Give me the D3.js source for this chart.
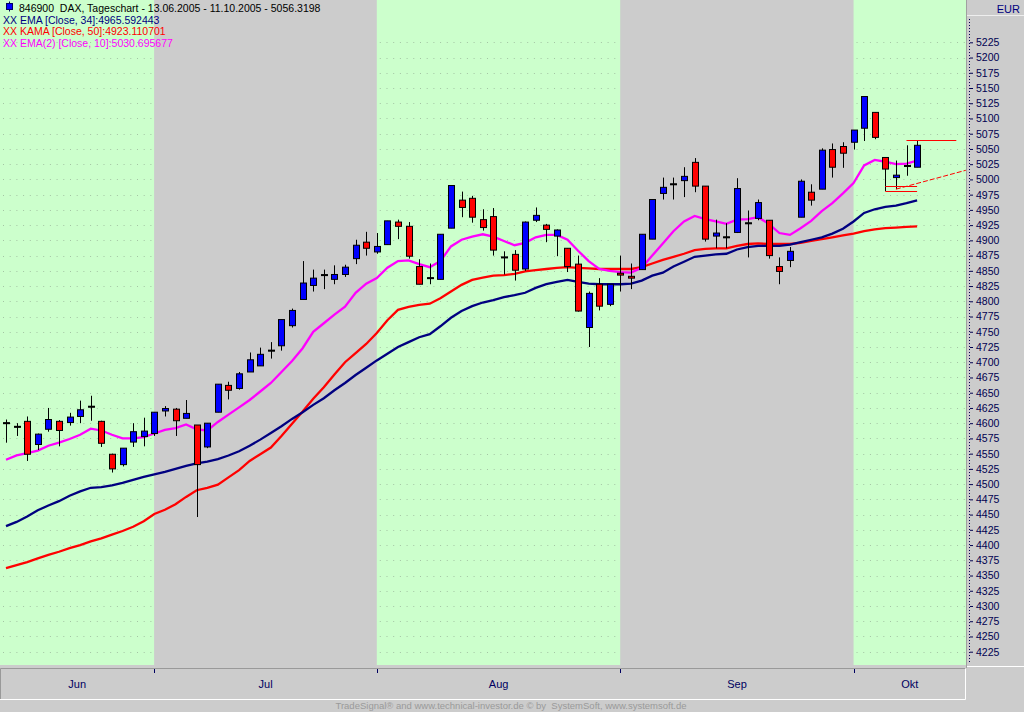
<!DOCTYPE html>
<html>
<head>
<meta charset="utf-8">
<script src="https://cdn.jsdelivr.net/npm/d3@7"></script>
<style>
  html, body { margin: 0; padding: 0; background: #cccccc; }
  svg { display: block; font-family: "Liberation Sans", Arial, sans-serif; }
</style>
</head>
<body>
<svg id="chart" width="1024" height="712"></svg>
<script>
// DAX daily chart 13.06.2005 - 11.10.2005
var months = ["Jun", "Jul", "Aug", "Sep", "Okt"];
var monthStart = [0, 14, 35, 58, 80];   //index of the first trading day of each month

var open  = [4600,4594,4603,4565,4590,4603,4601,4611,4627,4603,4549,4532,4569,4578,4583,4620,4623,4608,4597,4561,
             4618,4662,4657,4684,4694,4719,4727,4760,4803,4826,4843,4836,4844,4870,4897,4881,4893,4930,4923,4857,
             4838,4836,4920,4966,4969,4934,4939,4872,4877,4853,4933,4925,4907,4887,4861,4757,4828,4795,4846,4841,
             4852,4902,4977,4992,4998,5028,4989,4907,4905,4913,4928,4936,4933,4857,4867,4938,4979,4984,5049,5054,
             5061,5084,5110,5036,5003,5023,5020];
var high  = [4606,4600,4611,4583,4625,4605,4617,4637,4645,4604,4550,4559,4600,4609,4618,4628,4625,4638,4597,4600,
             4664,4668,4684,4716,4724,4733,4770,4788,4866,4852,4852,4859,4860,4901,4914,4912,4932,4934,4930,4869,
             4862,4910,4990,4980,4973,4951,4953,4882,4884,4931,4954,4927,4918,4887,4875,4816,4838,4828,4875,4862,
             4910,4967,5003,5003,5020,5035,4989,4934,4928,5002,4949,4967,4933,4872,4889,5000,4992,5051,5059,5061,
             5081,5136,5110,5036,5031,5056,5064];
var low   = [4568,4579,4538,4556,4586,4562,4596,4600,4604,4561,4519,4529,4561,4562,4579,4611,4579,4608,4446,4559,
             4618,4639,4655,4684,4694,4706,4719,4757,4803,4816,4820,4828,4840,4861,4875,4878,4893,4902,4870,4828,
             4828,4836,4920,4938,4929,4916,4875,4844,4834,4850,4930,4897,4874,4848,4783,4725,4785,4792,4816,4820,
             4852,4902,4967,4967,4971,4979,4898,4887,4887,4912,4872,4933,4870,4828,4856,4938,4957,4984,5003,5019,
             5049,5063,5066,4981,4984,5006,5020];
var close = [4600,4594,4549,4582,4606,4588,4610,4622,4627,4567,4525,4559,4586,4587,4618,4624,4604,4616,4532,4600,
             4664,4654,4681,4704,4713,4719,4770,4785,4830,4838,4843,4844,4856,4892,4887,4890,4932,4923,4874,4828,
             4838,4910,4990,4954,4938,4921,4884,4872,4851,4930,4941,4918,4917,4857,4784,4813,4792,4828,4843,4838,
             4910,4967,4987,4992,5005,4989,4902,4912,4905,4985,4928,4962,4875,4849,4882,4997,4966,5048,5020,5043,
             5081,5136,5069,5017,5007,5022,5056];

// indicator lines
var ema34 = [4431,4438,4447,4457,4465,4472,4481,4488,4494,4495,4498,4502,4507,4512,4516,4520,4525,4530,4534,4537,
             4541,4547,4554,4563,4573,4584,4595,4607,4618,4630,4641,4654,4666,4679,4691,4703,4714,4725,4733,4741,
             4746,4759,4773,4784,4792,4798,4802,4807,4810,4814,4822,4828,4832,4835,4832,4829,4828,4828,4828,4829,
             4834,4842,4847,4857,4865,4873,4875,4877,4878,4885,4889,4891,4891,4891,4893,4897,4901,4905,4911,4919,
             4931,4945,4951,4955,4957,4961,4965.6];
var kama50 = [4362,4367,4372,4378,4384,4389,4395,4400,4406,4411,4417,4423,4430,4439,4451,4458,4467,4479,4490,4494,
              4499,4511,4523,4538,4549,4560,4579,4599,4619,4640,4659,4680,4700,4715,4730,4748,4769,4786,4791,4794,
              4796,4805,4816,4827,4835,4839,4842,4843,4845,4849,4851,4853,4855,4856,4855,4854,4853,4853,4853,4853,
              4856,4862,4868,4873,4878,4884,4886,4887,4887,4891,4894,4895,4894,4894,4894,4896,4899,4902,4905,4908,
              4911,4915,4918,4920,4921,4922,4923.1];
var ema10 = [4540,4547,4551,4555,4563,4568,4574,4581,4591,4588,4581,4575,4575,4577,4583,4589,4592,4598,4590,4588,
             4602,4614,4626,4638,4652,4666,4684,4702,4723,4750,4764,4778,4791,4814,4829,4838,4855,4866,4867,4861,
             4856,4866,4890,4901,4906,4910,4906,4899,4892,4896,4905,4909,4909,4901,4883,4866,4853,4850,4848,4847,
             4855,4875,4895,4915,4931,4940,4935,4931,4927,4934,4935,4938,4927,4912,4909,4920,4932,4948,4961,4977,
             4994,5023,5032,5029,5025,5026,5030.7];

// support / resistance marks drawn at the right end
var hLevels = [5064, 4990, 4981];
var hFrom   = [85, 83, 83];
var hTo     = [89.7, 86, 86];
var trendIdx = [84, 90.6];
var trendVal = [4984, 5015];

var priceTicks = d3.range(4225, 5226, 25);

var svg = d3.select("#chart");
var plotW = 966, plotH = 665;

var x = d3.scaleLinear().domain([0, 86]).range([6, 917.1]);
var y = d3.scaleLinear().domain([4225, 5225]).range([651.7, 42.3]);

//month band edges
var edges = monthStart.map(function(d) { return x(d); });
edges[0] = 0;
edges.push(plotW);

var bands = months.map(function(m, i) {
  return {name: m, x0: edges[i], x1: edges[i + 1], green: i % 2 == 0};
});

svg.append("g")
  .selectAll("rect")
  .data(bands)
  .enter()
  .append("rect")
    .attr("x", function(d) { return d.x0; })
    .attr("y", 0)
    .attr("width", function(d) { return d.x1 - d.x0; })
    .attr("height", plotH)
    .attr("fill", function(d) { return d.green ? "#ccffcc" : "#cccccc"; });

//dotted grid, only visible on the green bands
var grid = svg.append("g");
bands.filter(function(d) { return d.green; }).forEach(function(b) {
  grid.selectAll(null)
    .data(priceTicks)
    .enter()
    .append("line")
      .attr("x1", b.x0 + 3)
      .attr("x2", b.x1)
      .attr("y1", function(d) { return Math.round(y(d)) + 0.5; })
      .attr("y2", function(d) { return Math.round(y(d)) + 0.5; })
      .attr("stroke", "#a4c4a4")
      .attr("stroke-dasharray", "1,5.7");
});

//indicator lines
var line = d3.line()
  .x(function(d, i) { return x(i); })
  .y(function(d) { return y(d); });

[[kama50, "#ff0000"], [ema34, "#000080"], [ema10, "#ff00ff"]].forEach(function(s) {
  svg.append("path")
    .datum(s[0])
    .attr("d", line)
    .attr("fill", "none")
    .attr("stroke", s[1])
    .attr("stroke-width", 2.3);
});

//candles
var candles = svg.append("g")
  .selectAll("g")
  .data(open.map(function(o, i) {
    return {i: i, o: o, h: high[i], l: low[i], c: close[i]};
  }))
  .enter()
  .append("g");

candles.append("line")
  .attr("x1", function(d) { return Math.round(x(d.i)) + 0.5; })
  .attr("x2", function(d) { return Math.round(x(d.i)) + 0.5; })
  .attr("y1", function(d) { return y(d.h); })
  .attr("y2", function(d) { return y(d.l); })
  .attr("stroke", "#000000");

//dojis get a 1px body so the cross stays visible
candles.append("rect")
  .attr("x", function(d) { return Math.round(x(d.i)) - 2.5; })
  .attr("y", function(d) {
    var h = Math.abs(y(d.o) - y(d.c));
    return h < 1 ? y(d.c) - 0.5 : y(Math.max(d.o, d.c));
  })
  .attr("width", 6)
  .attr("height", function(d) { return Math.max(1, Math.abs(y(d.o) - y(d.c))); })
  .attr("fill", function(d) {
    if (d.c > d.o) return "#0000ff";
    if (d.c < d.o) return "#ff0000";
    return "#000000";
  })
  .attr("stroke", "#000000");

//red marks on the right
svg.append("g")
  .selectAll("line")
  .data(hLevels)
  .enter()
  .append("line")
    .attr("x1", function(d, i) { return x(hFrom[i]); })
    .attr("x2", function(d, i) { return x(hTo[i]); })
    .attr("y1", function(d) { return Math.round(y(d)) + 0.5; })
    .attr("y2", function(d) { return Math.round(y(d)) + 0.5; })
    .attr("stroke", "#ff0000");

svg.append("line")
  .attr("x1", x(trendIdx[0]))
  .attr("y1", y(trendVal[0]))
  .attr("x2", x(trendIdx[1]))
  .attr("y2", y(trendVal[1]))
  .attr("stroke", "#ff0000")
  .attr("stroke-dasharray", "5,2");

//right price axis panel
svg.append("line")
  .attr("x1", 966.5).attr("x2", 966.5).attr("y1", 0).attr("y2", 668)
  .attr("stroke", "#a0a0a0").attr("stroke-width", 1);
svg.append("line")
  .attr("x1", 967).attr("x2", 1024).attr("y1", 15.5).attr("y2", 15.5)
  .attr("stroke", "#eeeeee");
svg.append("line")
  .attr("x1", 967).attr("x2", 1024).attr("y1", 666.5).attr("y2", 666.5)
  .attr("stroke", "#ffffff");
svg.append("text")
  .attr("x", 1020).attr("y", 12.5)
  .attr("text-anchor", "end")
  .attr("font-size", "11px")
  .attr("fill", "#000080")
  .text("EUR");
svg.append("line")
  .attr("x1", 969.5).attr("x2", 969.5).attr("y1", 19).attr("y2", 664)
  .attr("stroke", "#000050")
  .attr("stroke-dasharray", "1,2");

var yAxis = d3.axisRight(y)
  .tickValues(priceTicks)
  .tickSize(3)
  .tickPadding(3)
  .tickFormat(d3.format("d"));

var ya = svg.append("g")
  .attr("transform", "translate(970,0)")
  .call(yAxis);
ya.select(".domain").remove();
ya.selectAll("line").attr("stroke", "#000050");
ya.selectAll("text")
  .attr("fill", "#000050")
  .attr("font-size", "10.5px")
  .attr("font-family", "Liberation Sans, Arial, sans-serif");

//month axis box
svg.append("path")
  .attr("d", "M0.5,699 V668.5 H965.5")
  .attr("fill", "none").attr("stroke", "#999999");
svg.append("path")
  .attr("d", "M965.5,668.5 V699.5 H0")
  .attr("fill", "none").attr("stroke", "#ffffff");

svg.append("g")
  .selectAll("line")
  .data(monthStart.slice(1))
  .enter()
  .append("line")
    .attr("x1", function(d) { return Math.round(x(d)) + 0.5; })
    .attr("x2", function(d) { return Math.round(x(d)) + 0.5; })
    .attr("y1", 669)
    .attr("y2", 673)
    .attr("stroke", "#000060");

svg.append("g")
  .selectAll("text")
  .data(bands)
  .enter()
  .append("text")
    .attr("x", function(d) { return (d.x0 + d.x1) / 2; })
    .attr("y", 688)
    .attr("text-anchor", "middle")
    .attr("font-size", "11px")
    .attr("fill", "#000060")
    .text(function(d) { return d.name; });

//legend
svg.append("line")
  .attr("x1", 9.5).attr("x2", 9.5).attr("y1", 1.5).attr("y2", 11.5)
  .attr("stroke", "#000060");
svg.append("rect")
  .attr("x", 6.5).attr("y", 3.5).attr("width", 6).attr("height", 6)
  .attr("fill", "#0000ff").attr("stroke", "#000060");

var legendText = [
  ["846900  DAX, Tageschart - 13.06.2005 - 11.10.2005 - 5056.3198", "#000000", 19, 11.5],
  ["XX EMA [Close, 34]:4965.592443", "#000080", 3, 23.5],
  ["XX KAMA [Close, 50]:4923.110701", "#ff0000", 3, 35],
  ["XX EMA(2) [Close, 10]:5030.695677", "#ff00ff", 3, 46.5]
];
svg.append("g")
  .selectAll("text")
  .data(legendText)
  .enter()
  .append("text")
    .attr("x", function(d) { return d[2]; })
    .attr("y", function(d) { return d[3]; })
    .attr("font-size", "10.5px")
    .attr("fill", function(d) { return d[1]; })
    .style("white-space", "pre")
    .text(function(d) { return d[0]; });

//footer
svg.append("text")
  .attr("x", 511).attr("y", 709)
  .attr("text-anchor", "middle")
  .attr("font-size", "9.5px")
  .attr("fill", "#9a9a9a")
  .style("white-space", "pre")
  .text("TradeSignal\u00ae and www.technical-investor.de \u00a9 by  SystemSoft, www.systemsoft.de");
</script>
</body>
</html>
